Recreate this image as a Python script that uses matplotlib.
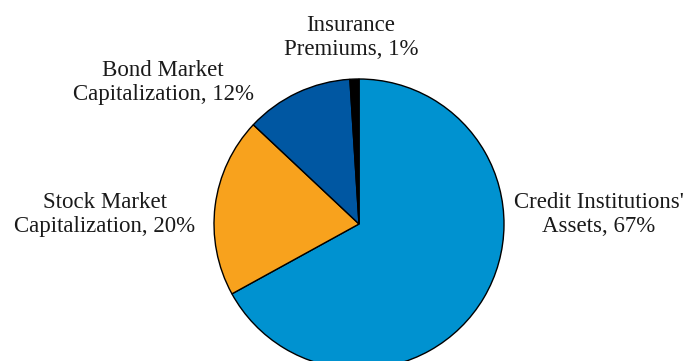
import matplotlib.pyplot as plt

labels = ["Credit Institutions'\nAssets, 67%", "Stock Market\nCapitalization, 20%",
          "Bond Market\nCapitalization, 12%", "Insurance\nPremiums, 1%"]
shares = [67, 20, 12, 1]
colors = ['#0092D0', '#F8A21D', '#0057A2', '#000000']

# label anchor points, in pie-radius units from the centre
label_pos = [(1.655, 0.066), (-1.752, 0.066), (-1.35, 0.976), (-0.055, 1.286)]

plt.rcParams['font.family'] = ['Liberation Serif', 'DejaVu Serif']

fig = plt.figure(figsize=(6.88, 3.61), dpi=100)
ax = fig.add_axes([0, 0, 1, 1])

ax.pie(shares, colors=colors, startangle=90, counterclock=False,
       wedgeprops=dict(edgecolor='black', linewidth=1.0))

for txt, (x, y) in zip(labels, label_pos):
    ax.text(x, y, txt, ha='center', va='center', fontsize=16.5,
            linespacing=1.2, color='#1a1a1a')

# one radius = 145 px, centre at (359, 224) from top-left
ax.set_xlim(-359 / 145, (688 - 359) / 145)
ax.set_ylim(-(361 - 224) / 145, 224 / 145)
ax.set_aspect('equal')
ax.axis('off')

plt.savefig('out.png', dpi=100)
plt.close()
